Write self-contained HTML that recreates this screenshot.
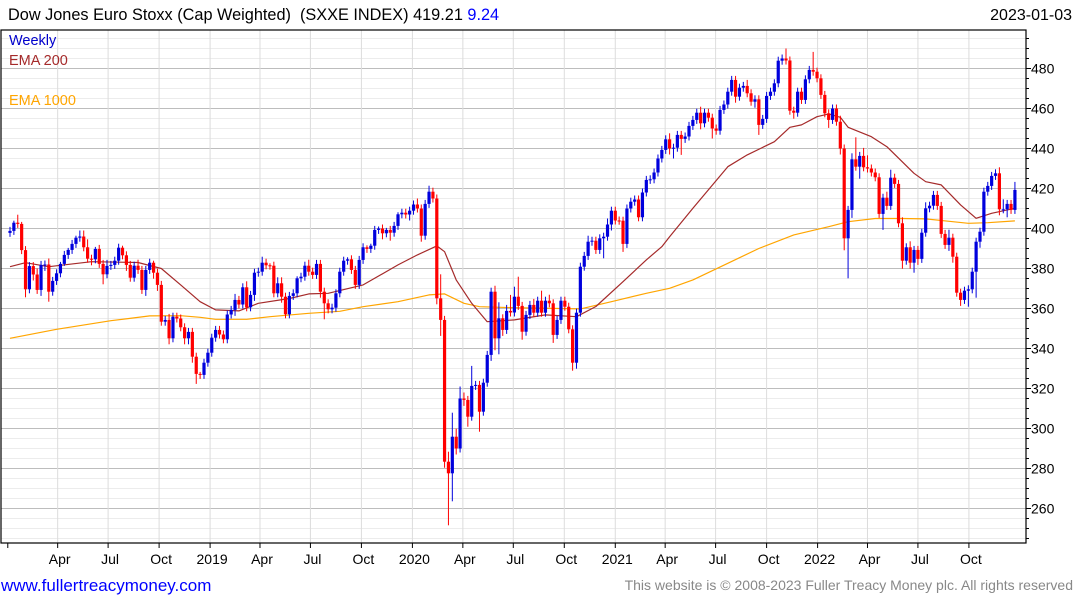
<!DOCTYPE html>
<html><head><meta charset="utf-8"><style>
html,body{margin:0;padding:0;background:#fff;}
svg{display:block;font-family:"Liberation Sans",sans-serif;}
</style></head><body>
<svg id="chart" width="1075" height="600" viewBox="0 0 1075 600">
<rect x="0" y="0" width="1075" height="600" fill="#fff"/>
<g id="grid"></g>
<g id="ema"></g>
<g id="candles"></g>
<rect x="1" y="30" width="1025" height="513" fill="none" stroke="#000" stroke-width="1.2"/>
<g id="axes"></g>
<text x="8" y="20" font-size="16.3" fill="#000" style="white-space:pre" xml:space="preserve">Dow Jones Euro Stoxx (Cap Weighted)  (SXXE INDEX) 419.21 <tspan fill="#0000ff">9.24</tspan></text>
<text x="1072" y="20" font-size="16" text-anchor="end" fill="#000">2023-01-03</text>
<text x="9" y="45" font-size="14.5" fill="#0000cc">Weekly</text>
<text x="9" y="65" font-size="14.5" fill="#a52a2a">EMA 200</text>
<text x="9" y="105" font-size="14.5" fill="#ffa500">EMA 1000</text>
<text x="1" y="591" font-size="17" fill="#0000ff">www.fullertreacymoney.com</text>
<text x="1073" y="590" font-size="14" text-anchor="end" fill="#888">This website is © 2008-2023 Fuller Treacy Money plc. All rights reserved</text>
</svg>
<script>
const closes=[398.8,402.9,402.3,389.2,369.6,381.2,377,369.3,381.8,382,
368.4,373.8,377.6,382.3,386.8,389.3,392.3,395.4,396,390.6,
384.9,384.6,389.8,382.3,377.1,381.3,381.8,383.9,390.4,386.6,
381.8,375.4,381.4,379.3,369.3,379.3,382.9,377.9,371.8,353.4,
354.3,345.1,355.9,355,350.6,345.1,348.3,335.9,327.3,326.8,
332.9,337.9,345.4,349.3,347,344.6,357,359.3,364.3,362,
370.6,360.6,366.8,377.9,378.4,382.9,381.6,381.4,367.6,372.6,
365.9,357.1,366.3,367.6,375.1,375.9,381.4,378.4,376.8,382.3,
368.4,362.6,359.6,360.4,
367.6,378.4,383.9,384.6,379.3,371.8,384.3,390.6,389.8,391.4,
399.3,400,397.6,399.3,397.9,401.3,407.1,407.9,407,408.9,
412,410,396.4,412.3,418.4,415,365.1,354.3,283.4,277.6,
295.9,290,315,314.3,305.9,321.3,321.8,308.4,322.9,336.8,
368.4,345.1,355.1,349.3,358.8,358,365.9,361.3,348.4,356.8,
361.8,357.9,363.9,357.9,363.9,362.6,346.8,354.3,363.9,360.9,
349.6,332.9,357.9,380.9,386.3,393.4,393.9,389.3,395.1,395.9,
402,408.9,404,403.9,392.3,410,413.4,414.5,405.6,418,
424.3,424.6,428,
435,439.3,444.6,440,440.4,446.8,444.8,446,451.3,454.3,
457.9,452.6,457.9,455.4,450,448.9,459.3,462,468.4,474.3,
465.9,470.4,471.3,467.6,463.4,464.6,451.8,454.8,466.3,468.4,
472.6,483.9,485,484,458.9,457.9,468.4,464.3,474.6,479.3,
478.4,475.1,466.8,457.6,454.3,460,453.4,440,395.1,409.3,
434.6,430.9,436.3,430.6,430,428,425.6,407.3,415.4,411.3,
425.4,422.3,402.6,383.9,390.6,382.9,389.3,384.8,397.9,410.1,
411.4,416.8,411.3,397.3,391.8,395.4,385.9,367.9,364.3,368.9,
369.6,378.4,393.4,398.4,418.4,421.3,426.3,427.6,409.6,409.6,412.3,409.3,419.3];
const wickUp=[2,1,4,1,2,2,2,3,2,2, 3,2,2,1,2,1,2,1,3,3, 4,2,1,2,2,3,2,2,2,1, 2,2,2,3,2,2,2,1,2,2, 2,3,2,2,2,2,2,2,2,1, 2,2,2,2,2,2,2,2,3,2, 2,3,2,2,2,3,2,1,2,3, 3,2,2,2,1,2,2,3,2,2, 2,2,2,2,
2,2,2,1,2,2,2,2,1,1, 2,1,2,1,2,2,1,2,2,2, 2,3,2,2,3,2,2,12,2,5, 12,4,6,3,2,10,2,2,2,2, 2,3,8,2,3,8,5,10,2,2, 2,3,2,5,2,3,2,2,2,2, 2,2,2,2,2,3,2,2,2,2, 3,2,2,2,2,2,2,2,2,2, 2,2,2,
2,2,2,3,2,2,2,2,2,2, 2,3,2,2,2,2,2,2,2,2, 2,2,2,3,2,2,2,2,2,2, 2,2,2,5,2,2,2,2,2,2, 9,2,2,2,2,2,2,3,2,2, 3,11,2,4,6,2,2,2,2,3, 4,2,2,3,2,3,2,2,2,3, 2,2,2,2,2,4,2,2,2,2, 2,2,2,2,2,2,2,2,3,5,2,2,4];
const wickDn=[2,2,2,2,4,2,3,2,3,3, 5,2,2,2,1,2,2,2,2,2, 2,3,2,2,5,2,2,2,2,2, 3,2,2,2,2,3,2,3,3,2, 2,3,2,2,2,3,3,3,5,2, 2,2,2,2,2,2,2,2,3,2, 2,2,2,3,2,2,2,2,2,2, 3,2,2,2,2,2,2,2,2,2, 3,8,2,2,
2,2,2,2,2,2,2,2,2,2, 2,2,3,2,4,2,2,2,2,3, 2,2,3,2,2,2,3,8,3,26, 14,3,2,3,5,2,2,10,2,2, 3,6,8,3,2,2,2,2,4,2, 2,2,2,2,2,2,4,2,2,2, 2,4,3,2,2,2,2,2,2,10, 2,3,2,2,4,2,2,2,2,2, 2,2,2,
2,2,2,3,5,2,8,2,2,2, 2,3,2,2,5,2,2,2,2,2, 3,2,2,2,2,3,5,2,2,2, 2,2,2,2,2,3,2,2,2,2, 2,2,2,2,4,2,2,3,6,20, 4,2,6,2,2,2,2,2,8,2, 2,2,2,4,2,3,5,3,2,2, 2,2,2,2,2,3,3,2,3,2, 8,2,13,3,2,2,2,2,3,2,4,2,2];
const ema200Weeks=[0,4,10,21,33,39,44,49,53,59,64,72,77,82,91,100,105,110,112,115,119,123,130,138,146,151,158,164,168,170,176,185,190,197,201,204,208,211,214,216,222,226,233,236,240,245,249,253,259];
const ema200Vals=[380.9,382.9,380.9,383.4,383,380,371.8,363.4,359.3,358.8,362.6,365,367.3,367.6,371.8,381.8,386.8,391.3,388.4,374.3,362.6,353.4,354.3,356.8,355.9,361,373.4,384.3,390.9,395.9,410.1,430.9,436.8,443.4,450.6,451.8,455.9,457.3,455.6,450.6,445.9,440.9,427.6,423.4,421.8,411.8,405.1,407.6,410.1];
const ema1000Weeks=[0,12,26,36,44,49,53,61,67,77,85,91,100,108,112,117,121,130,147,155,164,170,176,185,193,202,211,216,223,230,236,243,247,252,259];
const ema1000Vals=[345.1,349.6,353.9,356.3,356.4,355.6,354.6,354.6,355.9,357.6,358.6,360.9,363.4,366.8,367.3,362.6,360.9,360.4,359.8,363.4,367.6,370.1,374.3,382.6,390,396.8,400.9,403.4,405,405,404.8,403.4,402.6,402.9,403.8];
const yTicks=[260,280,300,320,340,360,380,400,420,440,460,480];
const xTickLabels=["Apr","Jul","Oct","2019","Apr","Jul","Oct","2020","Apr","Jul","Oct","2021","Apr","Jul","Oct","2022","Apr","Jul","Oct"];
const xTickDates=["2018-04-01","2018-07-01","2018-10-01","2019-01-01","2019-04-01","2019-07-01","2019-10-01","2020-01-01","2020-04-01","2020-07-01","2020-10-01","2021-01-01","2021-04-01","2021-07-01","2021-10-01","2022-01-01","2022-04-01","2022-07-01","2022-10-01"];

const NS="http://www.w3.org/2000/svg";
const PX_WEEK=3.88, X0=10;
function xIdx(i){return X0+i*PX_WEEK;}
function xDate(s){const d=(Date.parse(s)-Date.parse("2018-01-05"))/864e5;return X0+d/7*PX_WEEK;}
function yVal(v){return 68.5+(480-v)*2;}
function mk(tag,attrs,parent){const e=document.createElementNS(NS,tag);for(const k in attrs)e.setAttribute(k,attrs[k]);parent.appendChild(e);return e;}
const grid=document.getElementById('grid'),axes=document.getElementById('axes'),cg=document.getElementById('candles'),eg=document.getElementById('ema');
for(let v=245;v<=495;v+=5){
  const major=(v%20===0);
  const l=mk('line',{x1:1,x2:1026,y1:yVal(v),y2:yVal(v),stroke:major?'#bdbdbd':'#ececec','stroke-width':1},grid);
  
  
  const t=mk('line',{x1:1026,x2:major?1031:1029,y1:yVal(v),y2:yVal(v),stroke:'#000'},axes);
  
  
}
yTicks.forEach(v=>{
  const t=mk('text',{x:1031,y:yVal(v)+5,'font-size':14,fill:'#000'},axes);
  t.textContent=v;
  
  
});
const firstTick=mk('line',{x1:xDate("2018-01-01"),x2:xDate("2018-01-01"),y1:543,y2:548,stroke:'#000'},axes);


xTickDates.forEach((d,k)=>{
  const x=xDate(d);
  const g=mk('line',{x1:x,x2:x,y1:30,y2:543,stroke:'#dcdcdc'},grid);
  
  
  const t=mk('line',{x1:x,x2:x,y1:543,y2:548,stroke:'#000'},axes);
  
  
  const tx=mk('text',{x:x+2,y:564,'font-size':14,'text-anchor':'middle',fill:'#000'},axes);
  tx.textContent=xTickLabels[k];
  
  
});
function line(weeks,vals,color,name){
  const pts=weeks.map((w,k)=>xIdx(w).toFixed(1)+','+yVal(vals[k]).toFixed(1)).join(' ');
  const p=mk('polyline',{points:pts,fill:'none',stroke:color,'stroke-width':1.2,'stroke-linejoin':'round'},eg);
  
  
}
line(ema1000Weeks,ema1000Vals,'#ffa500','ema-1000-line');
line(ema200Weeks,ema200Vals,'#a52a2a','ema-200-line');
closes.forEach((c,i)=>{
  const o=i>0?closes[i-1]:c-1;
  const up=c>=o;
  const col=up?'#0000dd':'#ff0000';
  const hi=Math.max(o,c)+wickUp[i], lo=Math.min(o,c)-wickDn[i];
  const x=xIdx(i);
  const w=mk('line',{x1:x,x2:x,y1:yVal(hi),y2:yVal(lo),stroke:col,'stroke-width':1},cg);
  
  
  const top=yVal(Math.max(o,c)),bot=yVal(Math.min(o,c));
  const b=mk('rect',{x:x-1.6,y:top,width:3.2,height:Math.max(1,bot-top),fill:col},cg);
  
  
});
</script>
</body></html>
